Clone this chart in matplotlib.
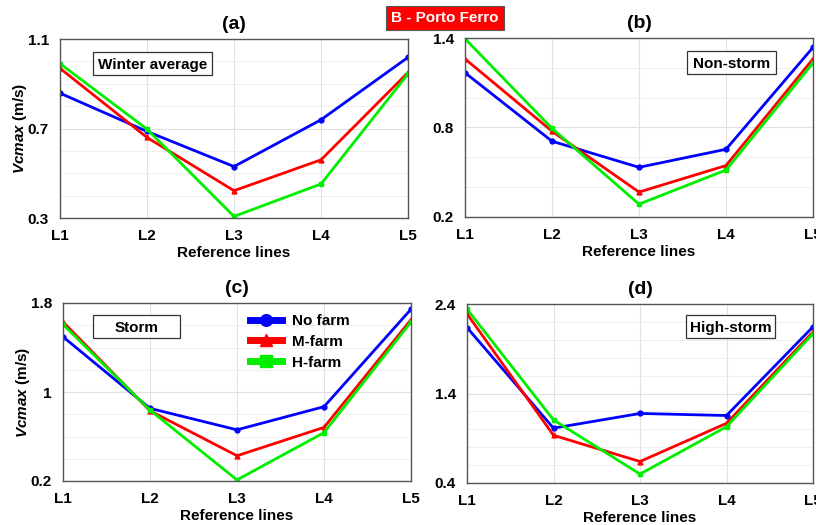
import numpy as np
import matplotlib.pyplot as plt
from matplotlib.patches import Rectangle

plt.rcParams['font.family'] = ['Liberation Sans', 'DejaVu Sans']
plt.rcParams['font.weight'] = 'bold'
plt.rcParams['mathtext.fontset'] = 'custom'
plt.rcParams['mathtext.it'] = 'Liberation Sans:italic:bold'
plt.rcParams['mathtext.rm'] = 'Liberation Sans:bold'

# reference lines on the x axis
lines = ["L1", "L2", "L3", "L4", "L5"]

# (a) Winter average
a_nofarm = [0.858, 0.687, 0.530, 0.739, 1.018]
a_mfarm = [0.969, 0.660, 0.422, 0.560, 0.950]
a_hfarm = [0.990, 0.697, 0.307, 0.452, 0.944]

# (b) Non-storm
b_nofarm = [1.167, 0.708, 0.533, 0.654, 1.337]
b_mfarm = [1.260, 0.775, 0.367, 0.545, 1.260]
b_hfarm = [1.395, 0.794, 0.286, 0.515, 1.232]

# (c) Storm
c_nofarm = [1.496, 0.853, 0.660, 0.868, 1.744]
c_mfarm = [1.630, 0.831, 0.427, 0.682, 1.650]
c_hfarm = [1.607, 0.837, 0.210, 0.635, 1.630]

# (d) High-storm
d_nofarm = [2.137, 1.013, 1.177, 1.154, 2.145]
d_mfarm = [2.290, 0.933, 0.640, 1.067, 2.088]
d_hfarm = [2.343, 1.105, 0.500, 1.029, 2.069]

fig = plt.figure(figsize=(8.16, 5.25), dpi=100)
W, H = 816, 525

def px_axes(left, top, right, bottom):
    return fig.add_axes([left / W, 1 - bottom / H, (right - left) / W, (bottom - top) / H])

panels = [
    # rect px, title, label, label box (x0, y0, w, h) in axes fraction,
    # data, y ticks, minor step, show ylabel
    ((60, 39, 408, 218), "(a)", "Winter average", (0.095, 0.80, 0.342, 0.128),
     (a_nofarm, a_mfarm, a_hfarm), [0.3, 0.7, 1.1], 0.1, True),
    ((465, 38, 813, 217), "(b)", "Non-storm", (0.639, 0.80, 0.255, 0.128),
     (b_nofarm, b_mfarm, b_hfarm), [0.2, 0.8, 1.4], 0.2, False),
    ((63, 303, 411, 481), "(c)", "Storm", (0.086, 0.803, 0.25, 0.13),
     (c_nofarm, c_mfarm, c_hfarm), [0.2, 1.0, 1.8], 0.2, True),
    ((467, 304, 813, 483), "(d)", "High-storm", (0.632, 0.81, 0.259, 0.128),
     (d_nofarm, d_mfarm, d_hfarm), [0.4, 1.4, 2.4], 0.2, False),
]

x = np.arange(1, 6)
colors = ["#0000ff", "#ff0000", "#00ee00"]
markers = ["o", "^", "s"]
names = ["No farm", "M-farm", "H-farm"]

for rect, title, label, box, data, yt, minor, ylab in panels:
    ax = px_axes(*rect)
    for vals, c, m, n in zip(data, colors, markers, names):
        ax.plot(x, vals, color=c, marker=m, markersize=3.5, linewidth=2, label=n)
    ax.set_xlim(1, 5)
    ax.set_ylim(yt[0], yt[-1])
    ax.set_xticks(x)
    ax.set_xticklabels(lines)
    ax.set_yticks(yt)
    ax.set_yticklabels([f"{v:g}" for v in yt])
    ax.set_yticks(np.arange(yt[0], yt[-1] + 1e-9, minor), minor=True)
    ax.grid(True, which='major', color='#e0e0e0', linewidth=0.8)
    ax.grid(True, which='minor', axis='y', color='#ececec', linewidth=0.6)
    ax.tick_params(axis='both', which='both', length=0, labelsize=11, pad=8)
    for lab in ax.get_xticklabels() + ax.get_yticklabels():
        lab.set_fontweight('bold')
    for sp in ax.spines.values():
        sp.set_color('#555555')
        sp.set_linewidth(1.0)
    ax.set_title(title, fontsize=14, fontweight='bold', pad=7)
    ax.set_xlabel("Reference lines", fontsize=11, fontweight='bold', labelpad=2)
    if ylab:
        ax.text(-0.115, 0.5, r"$\mathit{Vcmax}$ (m/s)", transform=ax.transAxes,
                rotation=90, ha='center', va='center', fontsize=11, fontweight='bold')
    ax.add_patch(Rectangle((box[0], box[1]), box[2], box[3], transform=ax.transAxes,
                           facecolor='white', edgecolor='#333333', linewidth=0.9,
                           zorder=5))
    ax.text(box[0] + box[2] / 2, box[1] + box[3] / 2, label, transform=ax.transAxes,
            fontsize=11, fontweight='bold', ha='center', va='center_baseline', zorder=6)
    if title == "(c)":
        leg = ax.legend(loc='upper left', bbox_to_anchor=(0.51, 0.99), frameon=False,
                        fontsize=11, handlelength=2.1, markerscale=2.4,
                        borderaxespad=0.2, labelspacing=0.45, handletextpad=0.7)
        for h in leg.get_lines():
            h.set_linewidth(5)
        for t in leg.get_texts():
            t.set_fontweight('bold')

fig.text(445 / W, 1 - 18 / H, "B - Porto Ferro", color='white', fontsize=11,
         fontweight='bold', ha='center', va='center',
         bbox=dict(boxstyle='square,pad=0.35', facecolor='#ff0000',
                   edgecolor='#555555', linewidth=0.8))

fig.savefig("out.png", dpi=100)
